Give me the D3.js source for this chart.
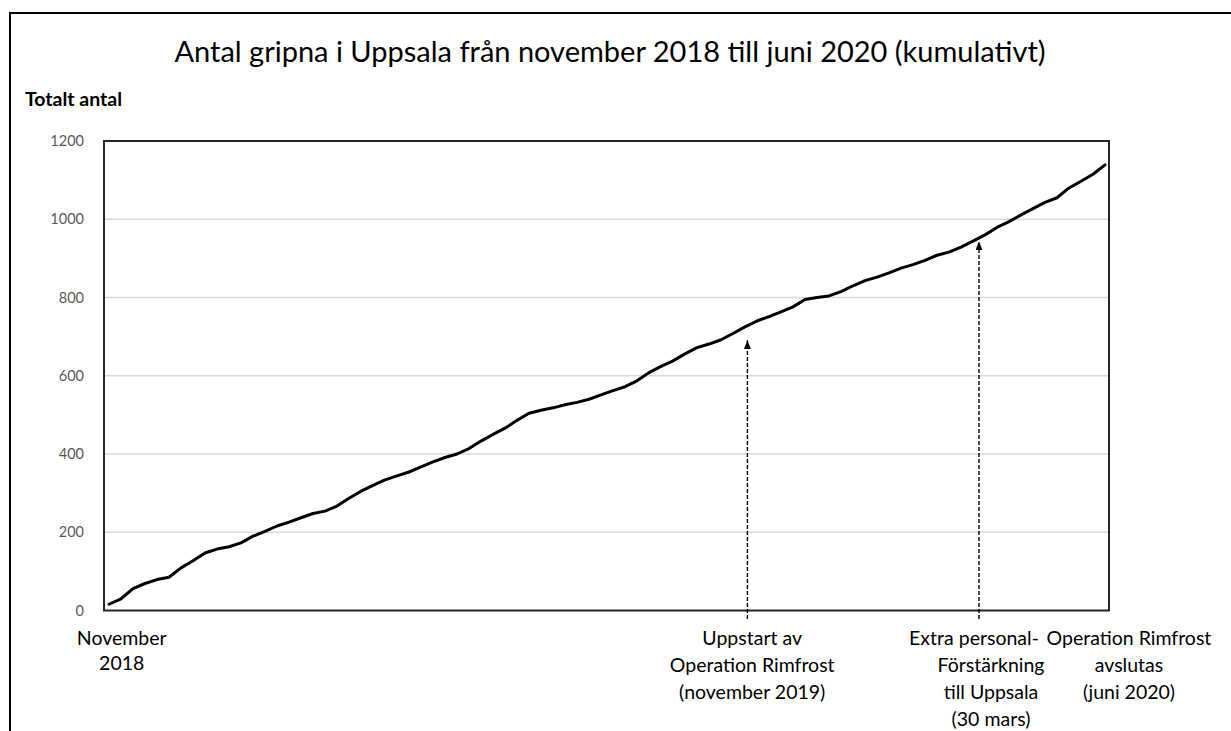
<!DOCTYPE html>
<html>
<head>
<meta charset="utf-8">
<script src="https://cdn.jsdelivr.net/npm/d3@7"></script>
<style>
  html, body { margin: 0; padding: 0; background: #fff; }
  svg { display: block; }
  text { font-family: Lato, "Open Sans", sans-serif; }
</style>
</head>
<body>
<svg id="chart" width="1231" height="731"></svg>
<script>
// Cumulative number of arrests in Uppsala, one value per week (Nov 2018 – Jun 2020)
const weeklyTotals = [
  16, 30, 56, 69, 79, 85, 109, 127, 147, 157,
  163, 173, 190, 202, 216, 226, 237, 248, 254, 267,
  287, 305, 320, 334, 344, 354, 367, 380, 391, 400,
  414, 433, 450, 466, 486, 504, 512, 518, 526, 532,
  540, 551, 562, 572, 587, 608, 624, 638, 656, 672,
  681, 692, 708, 725, 740, 751, 763, 776, 795, 800,
  804, 815, 830, 843, 852, 863, 875, 884, 895, 908,
  916, 929, 944, 960, 979, 994, 1011, 1027, 1043, 1055,
  1080, 1097, 1115, 1139
];
const weekIndex = weeklyTotals.map((_, i) => i);

const yTicks = [0, 200, 400, 600, 800, 1000, 1200];

const titleText = "Antal gripna i Uppsala från november 2018 till juni 2020 (kumulativt)";
const yAxisTitle = "Totalt antal";

// Event markers: week index and the value the arrow points up to
const eventWeeks = [53.2, 72.5];
const eventArrowTips = [691, 944];

// Labels under the x axis: week index (centre) and text lines
const labelWeeks = [1.06, 53.6, 73.5, 85.0];
const labelLines = [
  ["November", "2018"],
  ["Uppstart av", "Operation Rimfrost", "(november 2019)"],
  ["Extra personal-", "Förstärkning", "till Uppsala", "(30 mars)"],
  ["Operation Rimfrost", "avslutas", "(juni 2020)"]
];

const svg = d3.select("#chart");

// outer frame (continues past the right and bottom edges)
svg.append("rect")
  .attr("x", 10).attr("y", 13)
  .attr("width", 1300).attr("height", 800)
  .attr("fill", "none").attr("stroke", "#000").attr("stroke-width", 2);

const plot = { left: 104, right: 1109, top: 141, bottom: 610.5 };

const x = d3.scaleLinear().domain([0, 83]).range([109, 1105]);
const y = d3.scaleLinear().domain([0, 1200]).range([plot.bottom, plot.top]);

// title
svg.append("text")
  .attr("x", 610).attr("y", 62)
  .attr("text-anchor", "middle")
  .attr("font-size", 29)
  .attr("fill", "#000")
  .text(titleText);

svg.append("text")
  .attr("x", 25).attr("y", 106)
  .attr("font-size", 19.5)
  .attr("font-weight", "bold")
  .attr("fill", "#000")
  .text(yAxisTitle);

// gridlines
svg.append("g")
  .selectAll("line")
  .data(yTicks.filter(t => t > 0 && t < 1200))
  .join("line")
  .attr("x1", plot.left).attr("x2", plot.right)
  .attr("y1", d => y(d)).attr("y2", d => y(d))
  .attr("stroke", "#d9d9d9").attr("stroke-width", 1.5);

// y axis tick labels
const yAxis = d3.axisLeft(y)
  .tickValues(yTicks)
  .tickFormat(d3.format("d"))
  .tickSize(0)
  .tickPadding(20);
const yAxisG = svg.append("g")
  .attr("transform", `translate(${plot.left},0)`)
  .call(yAxis);
yAxisG.select(".domain").remove();
yAxisG.selectAll("text")
  .attr("font-family", "Lato, 'Open Sans', sans-serif")
  .attr("font-size", 14.5)
  .attr("fill", "#595959");

// plot frame
svg.append("rect")
  .attr("x", plot.left).attr("y", plot.top)
  .attr("width", plot.right - plot.left)
  .attr("height", plot.bottom - plot.top)
  .attr("fill", "none").attr("stroke", "#262626").attr("stroke-width", 2);

// cumulative line
const line = d3.line()
  .x(i => x(i))
  .y(i => y(weeklyTotals[i]));

svg.append("path")
  .datum(weekIndex)
  .attr("d", line)
  .attr("fill", "none")
  .attr("stroke", "#000")
  .attr("stroke-width", 3)
  .attr("stroke-linejoin", "round")
  .attr("stroke-linecap", "round");

// dashed arrows marking events
const defs = svg.append("defs");
defs.append("marker")
  .attr("id", "arrowHead")
  .attr("viewBox", "0 0 10 10")
  .attr("preserveAspectRatio", "none")
  .attr("refX", 10).attr("refY", 5)
  .attr("markerWidth", 9).attr("markerHeight", 7)
  .attr("markerUnits", "userSpaceOnUse")
  .attr("orient", "auto")
  .append("path")
  .attr("d", "M0,0 L10,5 L0,10 Z")
  .attr("fill", "#000");

svg.append("g")
  .selectAll("line")
  .data(eventWeeks)
  .join("line")
  .attr("x1", d => x(d)).attr("x2", d => x(d))
  .attr("y1", 619)
  .attr("y2", (d, i) => y(eventArrowTips[i]))
  .attr("stroke", "#000")
  .attr("stroke-width", 1.4)
  .attr("stroke-dasharray", "4,2")
  .attr("marker-end", "url(#arrowHead)");

// labels below the axis
const firstLineShift = [0, 0, -17, 0];
const lineGap = [25, 27, 27, 27];
const labelG = svg.append("g");
labelLines.forEach((lines, k) => {
  const t = labelG.append("text")
    .attr("text-anchor", "middle")
    .attr("font-size", 19.5)
    .attr("fill", "#000");
  lines.forEach((s, j) => {
    t.append("tspan")
      .attr("x", x(labelWeeks[k]) + (j === 0 ? firstLineShift[k] : 0))
      .attr("y", 645 + j * lineGap[k])
      .text(s);
  });
});
</script>
</body>
</html>
